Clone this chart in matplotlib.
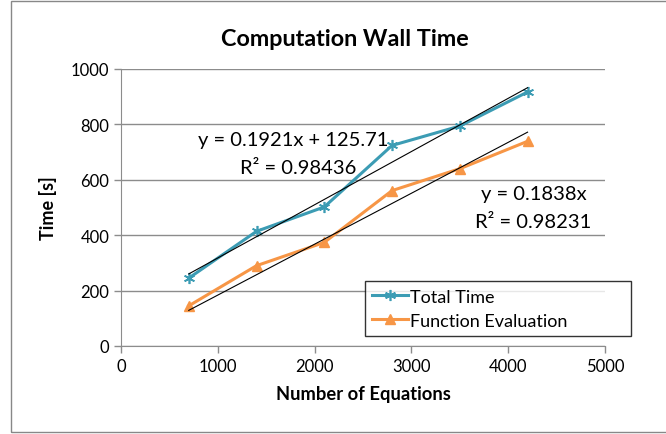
import numpy as np
import matplotlib
matplotlib.use('agg')
import matplotlib.pyplot as plt
from matplotlib.patches import Rectangle

plt.rc('font', family=['Lato', 'DejaVu Sans'])

n_eq = [700, 1400, 2100, 2800, 3500, 4200]
total_time = [245, 414, 502, 724, 794, 917]
func_eval = [145, 290, 374, 561, 640, 739]

fit_total = (0.1921, 125.71)
fit_func = (0.1838, 0.0)

teal = '#3c9cb4'
orange = '#f79646'

fig = plt.figure(figsize=(6.66, 4.35), dpi=100)
ax = fig.add_axes([121/666, 1-347/435, 484/666, 277/435])

# outer chart border
fig.patches.append(Rectangle((11/666, 2/435), 1.0, 431/435, transform=fig.transFigure,
                             fill=False, edgecolor='#888888', lw=1.0))

ax.plot(n_eq, total_time, color=teal, lw=2.2, marker=(6, 2, 0), ms=8, mew=1.2,
        label='Total Time', zorder=3)
ax.plot(n_eq, func_eval, color=orange, lw=2.2, marker='^', ms=7,
        label='Function Evaluation', zorder=3)

xs = np.array([n_eq[0], n_eq[-1]])
ax.plot(xs, fit_total[0]*xs + fit_total[1], color='black', lw=0.8, zorder=4)
ax.plot(xs, fit_func[0]*xs + fit_func[1], color='black', lw=0.8, zorder=4)

eq_fs = 14.5
ax.text(1777, 747, 'y = 0.1921x + 125.71', ha='center', va='center', fontsize=eq_fs)
ax.text(1829, 646, 'R² = 0.98436', ha='center', va='center', fontsize=eq_fs)
ax.text(4267, 552, 'y = 0.1838x', ha='center', va='center', fontsize=eq_fs)
ax.text(4256, 451, 'R² = 0.98231', ha='center', va='center', fontsize=eq_fs)

ax.set_xlim(0, 5000)
ax.set_ylim(0, 1000)
ax.set_xticks(range(0, 5001, 1000))
ax.set_yticks(range(0, 1001, 200))
ax.yaxis.grid(True, color='#8c8c8c', lw=1.0)
ax.set_axisbelow(True)
for s in ['top', 'right']:
    ax.spines[s].set_visible(False)
for s in ['left', 'bottom']:
    ax.spines[s].set_color('#8c8c8c')
ax.tick_params(colors='#8c8c8c', labelcolor='black', labelsize=12, length=5, width=1)

ax.set_xlabel('Number of Equations', fontsize=13.2, fontweight='bold', labelpad=8)
ax.set_ylabel('Time [s]', fontsize=13, fontweight='bold', labelpad=10)
fig.text(345/666, 1-40/435, 'Computation Wall Time', ha='center', va='center',
         fontsize=16.8, fontweight='bold')

leg = ax.legend(loc='lower left', bbox_to_anchor=(0.504, 0.036, 0.55, 0.21),
                mode='expand', fontsize=13, frameon=True, fancybox=False,
                handlelength=2.0, handletextpad=0.1, borderpad=0.4, labelspacing=0.45,
                borderaxespad=0)
leg.get_frame().set_edgecolor('black')
leg.get_frame().set_linewidth(1.0)

plt.savefig('out.png', dpi=100)
